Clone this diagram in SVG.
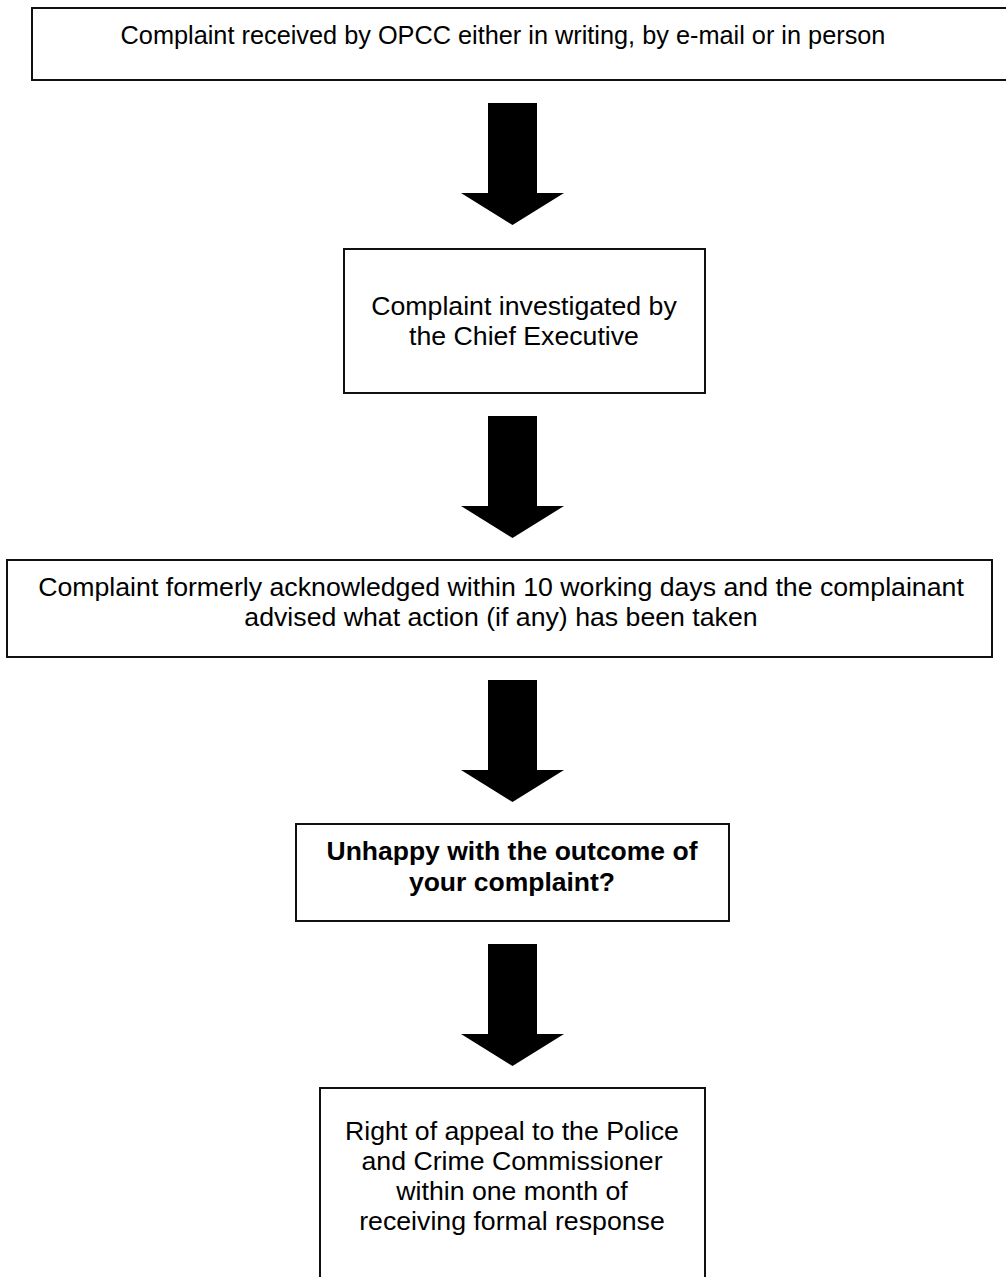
<svg xmlns="http://www.w3.org/2000/svg" xmlns:xlink="http://www.w3.org/1999/xlink" width="1006" height="1277" viewBox="0 0 1006 1277">
<style>
.box{fill:#fff;stroke:#111;stroke-width:2}
.t{font-family:"Liberation Sans",Arial,sans-serif;font-size:26.7px;fill:#000;text-anchor:middle}
.b{font-weight:bold;font-size:26.5px}
.arr{fill:#000}
</style>
<defs>
<path id="arrow" d="M488,0 H537 V90 H564 L512.5,122 L461,90 H488 Z"/>
</defs>
<rect width="1006" height="1277" fill="#fff"/>
<g id="connectors">
<use xlink:href="#arrow" class="arr" y="103"/>
<use xlink:href="#arrow" class="arr" y="416"/>
<use xlink:href="#arrow" class="arr" y="680"/>
<use xlink:href="#arrow" class="arr" y="944"/>
</g>
<g id="n1">
<rect class="box" x="32" y="8" width="1000" height="72"/>
<text class="t" x="503" y="44" style="font-size:25.3px">Complaint received by OPCC either in writing, by e-mail or in person</text>
</g>
<g id="n2">
<rect class="box" x="344" y="249" width="361" height="144"/>
<text class="t" x="524" y="315">Complaint investigated by</text>
<text class="t" x="524" y="345">the Chief Executive</text>
</g>
<g id="n3">
<rect class="box" x="7" y="560" width="985" height="97"/>
<text class="t" x="501" y="596">Complaint formerly acknowledged within 10 working days and the complainant</text>
<text class="t" x="501" y="626">advised what action (if any) has been taken</text>
</g>
<g id="n4">
<rect class="box" x="296" y="824" width="433" height="97"/>
<text class="t b" x="512" y="860">Unhappy with the outcome of</text>
<text class="t b" x="512" y="891">your complaint?</text>
</g>
<g id="n5">
<rect class="box" x="320" y="1088" width="385" height="220"/>
<text class="t" x="512" y="1140">Right of appeal to the Police</text>
<text class="t" x="512" y="1170">and Crime Commissioner</text>
<text class="t" x="512" y="1200">within one month of</text>
<text class="t" x="512" y="1230">receiving formal response</text>
</g>
</svg>
